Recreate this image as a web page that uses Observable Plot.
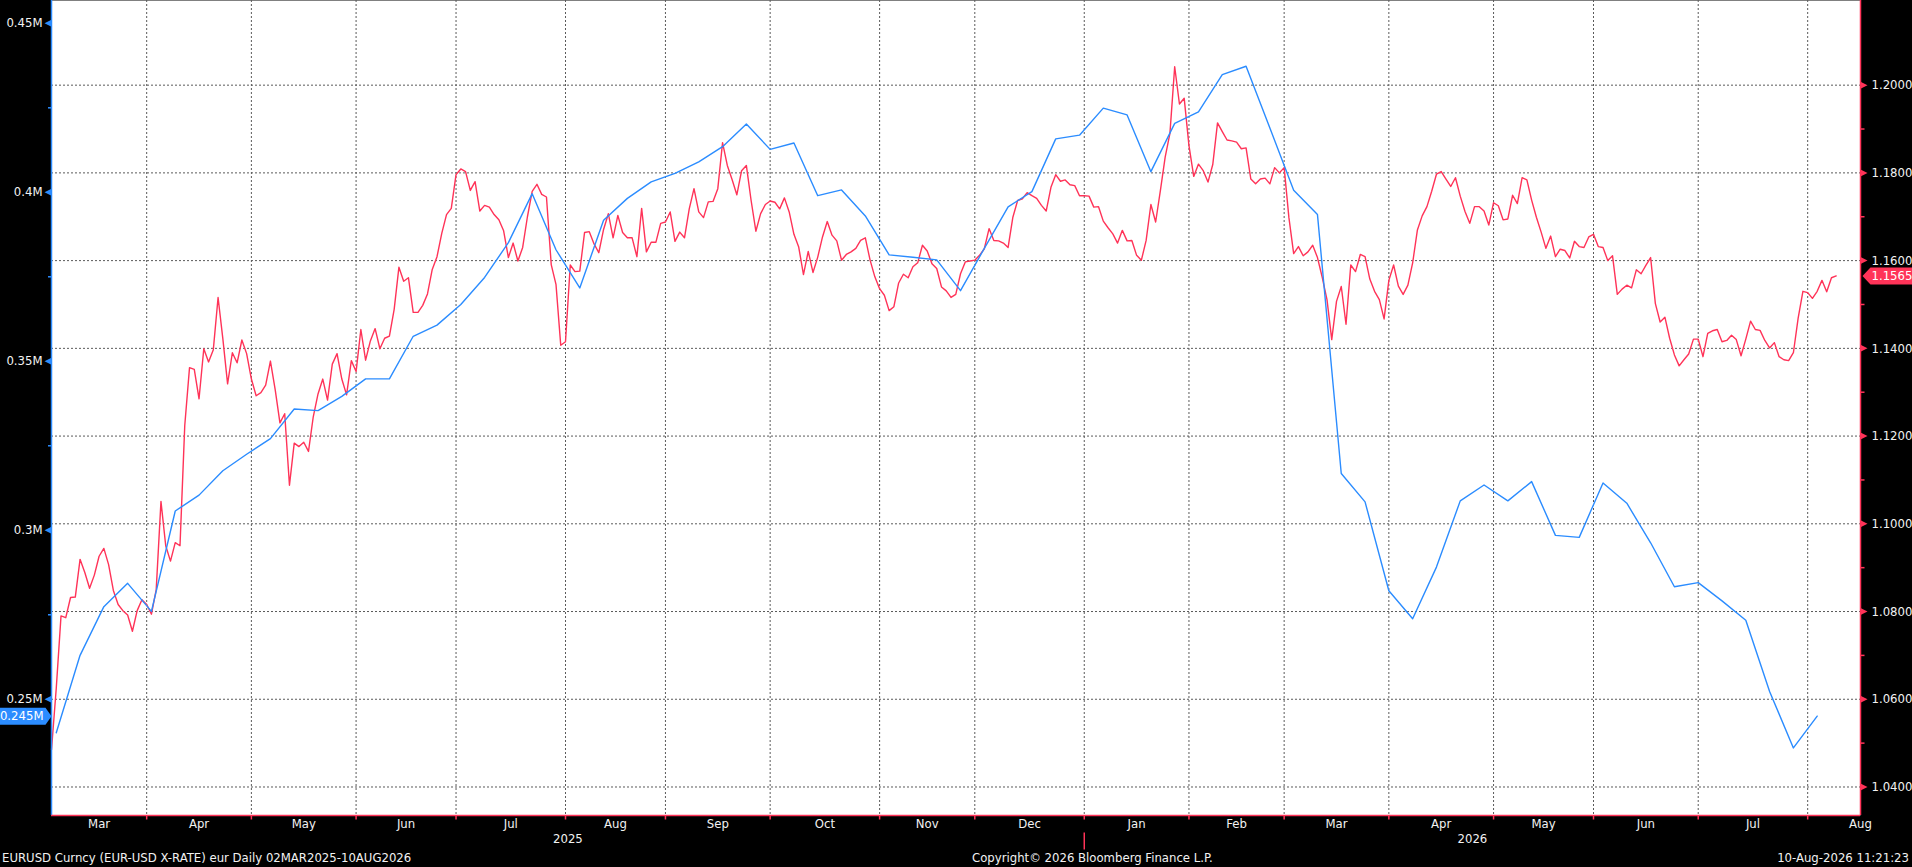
<!DOCTYPE html>
<html>
<head>
<meta charset="utf-8">
<script src="https://cdn.jsdelivr.net/npm/d3@7"></script>
<script src="https://cdn.jsdelivr.net/npm/@observablehq/plot@0.6"></script>
<style>
html, body { margin: 0; padding: 0; background: #000; overflow: hidden; }
#chart svg { display: block; }
#footer { position: relative; width: 1912px; height: 17px; color: #f2f2f2;
  font: 13px "Liberation Sans Narrow", "Arial Narrow", "DejaVu Sans Condensed", sans-serif; }
#footer span { position: absolute; top: 0; line-height: 15px; white-space: nowrap; }
</style>
</head>
<body>
<div id="chart"></div>
<div id="footer">
  <span style="left:2px">EURUSD Curncy (EUR-USD X-RATE) eur Daily 02MAR2025-10AUG2026</span>
  <span style="left:972px">Copyright© 2026 Bloomberg Finance L.P.</span>
  <span style="right:3px">10-Aug-2026 11:21:23</span>
</div>
<script>
// ---- data ----
const startDate = "2025-03-03";   // first trading day (daily series, weekdays)
const endDate = "2026-08-10";
// EUR-USD daily close, one value per weekday from startDate
const eurusd = [
  1.0485, 1.0625, 1.0790, 1.0786, 1.0832, 1.0833, 1.0919, 1.0889, 1.0853, 1.0883,
  1.0926, 1.0944, 1.0907, 1.0848, 1.0816, 1.0802, 1.0792, 1.0755, 1.0802, 1.0827,
  1.0816, 1.0794, 1.0850, 1.1051, 1.0950, 1.0915, 1.0957, 1.0950, 1.1224, 1.1356,
  1.1352, 1.1285, 1.1399, 1.1369, 1.1397, 1.1516, 1.1422, 1.1319, 1.1390, 1.1367,
  1.1419, 1.1388, 1.1330, 1.1292, 1.1299, 1.1316, 1.1371, 1.1306, 1.1230, 1.1251,
  1.1088, 1.1184, 1.1176, 1.1186, 1.1165, 1.1244, 1.1296, 1.1330, 1.1282, 1.1364,
  1.1388, 1.1330, 1.1294, 1.1372, 1.1347, 1.1443, 1.1373, 1.1417, 1.1445, 1.1399,
  1.1423, 1.1428, 1.1489, 1.1585, 1.1553, 1.1561, 1.1482, 1.1482, 1.1498, 1.1524,
  1.1580, 1.1609, 1.1662, 1.1705, 1.1719, 1.1796, 1.1809, 1.1803, 1.1760, 1.1780,
  1.1713, 1.1726, 1.1722, 1.1705, 1.1693, 1.1668, 1.1607, 1.1640, 1.1599, 1.1630,
  1.1700, 1.1758, 1.1774, 1.1751, 1.1745, 1.1591, 1.1546, 1.1407, 1.1415, 1.1590,
  1.1575, 1.1576, 1.1664, 1.1666, 1.1638, 1.1618, 1.1671, 1.1707, 1.1652, 1.1703,
  1.1664, 1.1652, 1.1652, 1.1609, 1.1719, 1.1620, 1.1642, 1.1642, 1.1685, 1.1688,
  1.1711, 1.1644, 1.1665, 1.1652, 1.1718, 1.1764, 1.1711, 1.1698, 1.1734, 1.1735,
  1.1764, 1.1869, 1.1817, 1.1785, 1.1750, 1.1805, 1.1817, 1.1737, 1.1667, 1.1707,
  1.1728, 1.1736, 1.1733, 1.1718, 1.1743, 1.1711, 1.1660, 1.1631, 1.1568, 1.1621,
  1.1573, 1.1608, 1.1654, 1.1689, 1.1658, 1.1645, 1.1601, 1.1614, 1.1620, 1.1628,
  1.1646, 1.1652, 1.1601, 1.1563, 1.1536, 1.1521, 1.1486, 1.1495, 1.1549, 1.1569,
  1.1561, 1.1586, 1.1595, 1.1635, 1.1622, 1.1593, 1.1582, 1.1540, 1.1531, 1.1516,
  1.1523, 1.1570, 1.1597, 1.1599, 1.1601, 1.1612, 1.1627, 1.1673, 1.1646, 1.1645,
  1.1640, 1.1630, 1.1699, 1.1737, 1.1741, 1.1755, 1.1748, 1.1742, 1.1726, 1.1713,
  1.1767, 1.1796, 1.1781, 1.1784, 1.1773, 1.1771, 1.1748, 1.1748, 1.1747, 1.1722,
  1.1723, 1.1690, 1.1675, 1.1661, 1.1640, 1.1669, 1.1645, 1.1646, 1.1612, 1.1601,
  1.1646, 1.1728, 1.1688, 1.1760, 1.1836, 1.1890, 1.2042, 1.1957, 1.1970, 1.1862,
  1.1792, 1.1820, 1.1805, 1.1779, 1.1819, 1.1914, 1.1894, 1.1875, 1.1873, 1.1870,
  1.1855, 1.1857, 1.1786, 1.1775, 1.1786, 1.1788, 1.1775, 1.1812, 1.1800, 1.1812,
  1.1698, 1.1616, 1.1632, 1.1611, 1.1620, 1.1635, 1.1607, 1.1562, 1.1511, 1.1420,
  1.1507, 1.1541, 1.1455, 1.1590, 1.1575, 1.1614, 1.1609, 1.1558, 1.1530, 1.1511,
  1.1467, 1.1555, 1.1590, 1.1542, 1.1523, 1.1544, 1.1595, 1.1670, 1.1702, 1.1723,
  1.1758, 1.1797, 1.1803, 1.1786, 1.1769, 1.1789, 1.1747, 1.1712, 1.1685, 1.1723,
  1.1723, 1.1713, 1.1681, 1.1732, 1.1725, 1.1693, 1.1695, 1.1749, 1.1730, 1.1789,
  1.1784, 1.1738, 1.1699, 1.1665, 1.1628, 1.1656, 1.1609, 1.1626, 1.1623, 1.1606,
  1.1644, 1.1632, 1.1630, 1.1654, 1.1660, 1.1632, 1.1630, 1.1600, 1.1611, 1.1523,
  1.1535, 1.1544, 1.1538, 1.1579, 1.1570, 1.1589, 1.1607, 1.1502, 1.1460, 1.1471,
  1.1423, 1.1385, 1.1360, 1.1374, 1.1387, 1.1421, 1.1421, 1.1381, 1.1434, 1.1440,
  1.1443, 1.1415, 1.1418, 1.1430, 1.1420, 1.1383, 1.1421, 1.1462, 1.1443, 1.1441,
  1.1418, 1.1401, 1.1413, 1.1381, 1.1374, 1.1372, 1.1390, 1.1469, 1.1530, 1.1527,
  1.1514, 1.1530, 1.1555, 1.1529, 1.1561, 1.1565
];
// weekly positioning (millions), every Tuesday from positionStart
const positionStart = "2025-03-04";
const positions = [
  0.2401, 0.2630, 0.2774, 0.2843, 0.2760, 0.3057, 0.3104, 0.3176, 0.3225, 0.3271,
  0.3359, 0.3354, 0.3396, 0.3448, 0.3448, 0.3574, 0.3607, 0.3668, 0.3748, 0.3851,
  0.3996, 0.3830, 0.3717, 0.3917, 0.3982, 0.4031, 0.4056, 0.4090, 0.4135, 0.4202,
  0.4127, 0.4146, 0.3990, 0.4007, 0.3930, 0.3815, 0.3808, 0.3800, 0.3709, 0.3834,
  0.3957, 0.4002, 0.4158, 0.4169, 0.4249, 0.4229, 0.4061, 0.4204, 0.4238, 0.4348,
  0.4373, 0.4190, 0.4006, 0.3934, 0.3168, 0.3084, 0.2821, 0.2738, 0.2891, 0.3087,
  0.3134, 0.3087, 0.3144, 0.2985, 0.2979, 0.3140, 0.3080, 0.2963, 0.2833, 0.2845,
  0.2791, 0.2734, 0.2523, 0.2356, 0.2450
];
const rightTicks = [1.04, 1.06, 1.08, 1.10, 1.12, 1.14, 1.16, 1.18, 1.20];
const rightMinor = [1.05, 1.07, 1.09, 1.11, 1.13, 1.15, 1.17, 1.19];
const leftTicks = [0.25, 0.30, 0.35, 0.40, 0.45];
const leftTickLabels = ["0.25M", "0.3M", "0.35M", "0.4M", "0.45M"];
const leftMinor = [0.275, 0.325, 0.375, 0.425];
const monthLabels = ["Mar","Apr","May","Jun","Jul","Aug","Sep","Oct","Nov","Dec",
                     "Jan","Feb","Mar","Apr","May","Jun","Jul","Aug"];
const yearLabels = ["2025", "2026"];
const lastRate = 1.1565, lastRateLabel = "1.1565";
const lastPos = 0.245, lastPosLabel = "0.245M";

// ---- build ----
const RED = "#ff3358", BLUE = "#2b8cff", GRID = "#5a5a5a";
const FONT = '"Liberation Sans Narrow", "Arial Narrow", "DejaVu Sans Condensed", sans-serif';

const days = d3.utcDay.range(new Date(startDate), d3.utcDay.offset(new Date(endDate), 1))
  .filter(d => d.getUTCDay() !== 0 && d.getUTCDay() !== 6);
const idxOf = new Map(days.map((d, i) => [+d, i]));
const rate = eurusd.map((v, i) => ({i, v}));
const pos = positions.map((v, k) => ({i: idxOf.get(+d3.utcDay.offset(new Date(positionStart), 7 * k)), v}));

// left (positions) axis mapped onto right (EURUSD) scale: 0.25M <-> 1.06
const toRight = b => 1.06 + (b - 0.25) * 0.7705;

// month grid at last trading day of each month
const grid = [];
days.forEach((d, i) => { if (i > 0 && d.getUTCMonth() !== days[i - 1].getUTCMonth()) grid.push(i - 1); });
const xDomain = [0, 380.1];
const yDomain = [1.0335, 1.2193];
const edges = [xDomain[0], ...grid, xDomain[1]];
const months = monthLabels.map((m, k) => ({m, x: k === monthLabels.length - 1 ? edges[k + 1] : (edges[k] + edges[k + 1]) / 2,
  anchor: k === monthLabels.length - 1 ? "end" : "middle"}));
const janIdx = grid[9];
const years = [{t: yearLabels[0], x: (edges[0] + janIdx) / 2}, {t: yearLabels[1], x: (janIdx + xDomain[1]) / 2}];

const sym = fn => ({draw: fn});
const triLeft = sym(c => { c.moveTo(0, 0); c.lineTo(7, -3.5); c.lineTo(7, 3.5); c.closePath(); });
const triRight = sym(c => { c.moveTo(0, -3.5); c.lineTo(7, 0); c.lineTo(0, 3.5); c.closePath(); });
const minorLeft = sym(c => { c.moveTo(-3.5, 0); c.lineTo(0, 0); });
const minorRight = sym(c => { c.moveTo(0, 0); c.lineTo(4, 0); });
const tickDown = sym(c => { c.moveTo(0, 0); c.lineTo(0, 4); });
const yearSep = sym(c => { c.moveTo(0, 17); c.lineTo(0, 34); });
const tagRight = sym(c => { c.moveTo(2, 0); c.lineTo(10, -8.5); c.lineTo(53, -8.5); c.lineTo(53, 8.5); c.lineTo(10, 8.5); c.closePath(); });
const tagLeft = sym(c => { c.moveTo(0, 0); c.lineTo(-6, -8.5); c.lineTo(-52, -8.5); c.lineTo(-52, 8.5); c.lineTo(-6, 8.5); c.closePath(); });

const chart = Plot.plot({
  width: 1912, height: 850,
  marginLeft: 51, marginRight: 52, marginTop: 0, marginBottom: 35,
  x: {type: "linear", domain: xDomain, axis: null},
  y: {type: "linear", domain: yDomain, axis: null},
  style: {background: "#000", color: "#f2f2f2", fontFamily: FONT, fontSize: "13px", overflow: "visible"},
  marks: [
    Plot.frame({fill: "#fff", stroke: null}),
    Plot.ruleY(rightTicks, {stroke: GRID, strokeDasharray: "2,2", strokeWidth: 1}),
    Plot.ruleX(grid, {stroke: GRID, strokeDasharray: "2,2", strokeWidth: 1}),
    // series
    Plot.line(rate, {x: "i", y: "v", stroke: RED, strokeWidth: 1.4}),
    Plot.line(pos, {x: "i", y: d => toRight(d.v), stroke: BLUE, strokeWidth: 1.4}),
    // axis lines
    Plot.ruleX([xDomain[0]], {stroke: BLUE, strokeWidth: 1.5}),
    Plot.ruleX([xDomain[1]], {stroke: RED, strokeWidth: 1.5}),
    Plot.ruleY([yDomain[0]], {stroke: RED, strokeWidth: 1.5}),
    // left axis
    Plot.dot(leftTicks, {y: d => toRight(d), frameAnchor: "left", dx: -7, symbol: triLeft, fill: BLUE, stroke: null}),
    Plot.dot(leftMinor, {y: d => toRight(d), frameAnchor: "left", symbol: minorLeft, stroke: BLUE, fill: "none"}),
    Plot.text(leftTicks, {y: d => toRight(d), text: (d, i) => leftTickLabels[i], frameAnchor: "left", dx: -9,
      textAnchor: "end", fill: "#f2f2f2"}),
    // right axis
    Plot.dot(rightTicks, {y: d => d, frameAnchor: "right", symbol: triRight, fill: RED, stroke: null}),
    Plot.dot(rightMinor, {y: d => d, frameAnchor: "right", symbol: minorRight, stroke: RED, fill: "none"}),
    Plot.text(rightTicks, {y: d => d, text: d => d.toFixed(4), frameAnchor: "right", dx: 11,
      textAnchor: "start", fill: "#f2f2f2"}),
    // last-value tags
    Plot.dot([lastRate], {y: d => d, frameAnchor: "right", symbol: tagRight, fill: RED, stroke: null}),
    Plot.text([lastRate], {y: d => d, text: () => lastRateLabel, frameAnchor: "right", dx: 11, textAnchor: "start", fill: "#fff"}),
    Plot.dot([lastPos], {y: d => toRight(d), frameAnchor: "left", symbol: tagLeft, fill: BLUE, stroke: null}),
    Plot.text([lastPos], {y: d => toRight(d), text: () => lastPosLabel, frameAnchor: "left", dx: -8, textAnchor: "end", fill: "#fff"}),
    // bottom axis
    Plot.dot(grid, {x: d => d, frameAnchor: "bottom", symbol: tickDown, stroke: RED, fill: "none"}),
    Plot.dot([janIdx], {x: d => d, frameAnchor: "bottom", symbol: yearSep, stroke: RED, fill: "none"}),
    Plot.text(months, {x: "x", text: "m", frameAnchor: "bottom", dy: 12, textAnchor: d => d.anchor, fill: "#f2f2f2"}),
    Plot.text(years, {x: "x", text: "t", frameAnchor: "bottom", dy: 27, fill: "#f2f2f2"})
  ]
});
document.getElementById("chart").appendChild(chart);
</script>
</body>
</html>
